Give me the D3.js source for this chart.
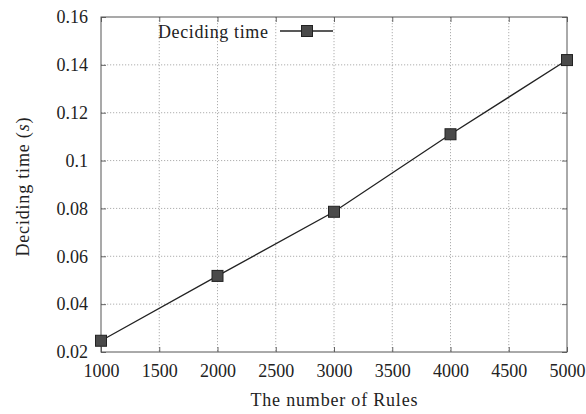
<!DOCTYPE html>
<html>
<head>
<meta charset="utf-8">
<script src="https://cdn.jsdelivr.net/npm/d3@7"></script>
<style>
  html, body { margin: 0; padding: 0; background: #fff; }
  svg { display: block; }
  text { font-family: "Liberation Serif", "Times New Roman", serif; fill: #222; }
</style>
</head>
<body>
<svg id="chart" width="586" height="414"></svg>
<script>
// Rule counts and measured deciding times (seconds)
const rules = [1000, 2000, 3000, 4000, 5000];
const decidingTime = [0.0247, 0.0518, 0.0786, 0.111, 0.142];
const xTicks = [1000, 1500, 2000, 2500, 3000, 3500, 4000, 4500, 5000];
const yTicks = [0.02, 0.04, 0.06, 0.08, 0.1, 0.12, 0.14, 0.16];
const seriesName = "Deciding time";

const svg = d3.select("#chart");
const m = { left: 101, right: 567, top: 17, bottom: 352 };
const fs = "18px";

const x = d3.scaleLinear().domain([1000, 5000]).range([m.left, m.right]);
const y = d3.scaleLinear().domain([0.02, 0.16]).range([m.bottom, m.top]);

// dotted grid
const grid = svg.append("g").attr("stroke", "#9a9a9a").attr("stroke-width", 0.8)
  .attr("stroke-dasharray", "1.2,1.8");
grid.selectAll(".gx").data(xTicks.slice(1, -1)).join("line")
  .attr("x1", d => x(d)).attr("x2", d => x(d)).attr("y1", m.top).attr("y2", m.bottom);
grid.selectAll(".gy").data(yTicks.slice(1, -1)).join("line")
  .attr("y1", d => y(d)).attr("y2", d => y(d)).attr("x1", m.left).attr("x2", m.right);

// axes with inward ticks, mirrored on top and right
const fmtY = d => d3.format("")(+d.toFixed(2));
const axisStyle = g => {
  g.select(".domain").remove();
  g.selectAll(".tick line").attr("stroke", "#555").attr("stroke-width", 0.9);
  g.selectAll(".tick text").style("font-size", fs).attr("fill", "#222");
};
svg.append("g").attr("transform", `translate(0,${m.bottom})`)
  .call(d3.axisBottom(x).tickValues(xTicks).tickSizeInner(-5).tickSizeOuter(0).tickPadding(12).tickFormat(d3.format("d")))
  .call(axisStyle);
svg.append("g").attr("transform", `translate(0,${m.top})`)
  .call(d3.axisTop(x).tickValues(xTicks).tickSizeInner(-5).tickSizeOuter(0).tickFormat(""))
  .call(axisStyle);
svg.append("g").attr("transform", `translate(${m.left},0)`)
  .call(d3.axisLeft(y).tickValues(yTicks).tickSizeInner(-5).tickSizeOuter(0).tickPadding(13).tickFormat(fmtY))
  .call(axisStyle);
svg.append("g").attr("transform", `translate(${m.right},0)`)
  .call(d3.axisRight(y).tickValues(yTicks).tickSizeInner(-5).tickSizeOuter(0).tickFormat(""))
  .call(axisStyle);

// frame
svg.append("rect").attr("x", m.left).attr("y", m.top)
  .attr("width", m.right - m.left).attr("height", m.bottom - m.top)
  .attr("fill", "none").attr("stroke", "#555").attr("stroke-width", 1);

// series line and square markers
const pts = rules.map((r, i) => [r, decidingTime[i]]);
svg.append("path").datum(pts)
  .attr("fill", "none").attr("stroke", "#222").attr("stroke-width", 1.3)
  .attr("d", d3.line().x(d => x(d[0])).y(d => y(d[1])));
const ms = 11;
svg.selectAll(".mk").data(pts).join("rect")
  .attr("x", d => x(d[0]) - ms / 2).attr("y", d => y(d[1]) - ms / 2)
  .attr("width", ms).attr("height", ms)
  .attr("fill", "#4a4a4a").attr("stroke", "#222").attr("stroke-width", 1);

// legend
const lg = svg.append("g");
lg.append("text").attr("x", 158).attr("y", 38)
  .attr("textLength", 110).attr("lengthAdjust", "spacing")
  .style("font-size", fs).text(seriesName);
lg.append("line").attr("x1", 280).attr("x2", 333).attr("y1", 31).attr("y2", 31)
  .attr("stroke", "#222").attr("stroke-width", 1.3);
lg.append("rect").attr("x", 307 - ms / 2).attr("y", 31 - ms / 2)
  .attr("width", ms).attr("height", ms)
  .attr("fill", "#4a4a4a").attr("stroke", "#222").attr("stroke-width", 1);

// axis titles
svg.append("text").attr("x", (m.left + m.right) / 2).attr("y", 406)
  .attr("text-anchor", "middle").attr("textLength", 167).attr("lengthAdjust", "spacing")
  .style("font-size", fs).text("The number of Rules");
const yt = svg.append("text")
  .attr("transform", `translate(29,187) rotate(-90)`)
  .attr("text-anchor", "middle").attr("textLength", 139).attr("lengthAdjust", "spacing")
  .style("font-size", fs);
yt.append("tspan").text("Deciding time (");
yt.append("tspan").style("font-style", "italic").text("s");
yt.append("tspan").text(")");
</script>
</body>
</html>
